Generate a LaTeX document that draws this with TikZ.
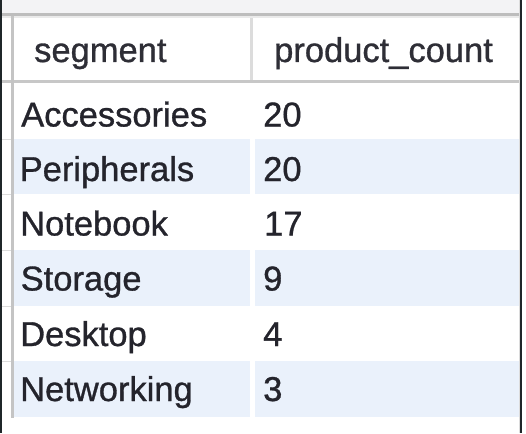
\documentclass[tikz,border=0pt]{standalone}
\usepackage{fontspec}
\setmainfont{Liberation Sans}
\newfontfamily\gridfont[FakeBold=0.9]{Liberation Sans}
\definecolor{stripe}{HTML}{EAF1FB}
\definecolor{topbar}{HTML}{F3F3F5}
\definecolor{rule}{HTML}{BDBDBD}
\definecolor{lightrule}{HTML}{DCDCDC}
\definecolor{frame}{HTML}{1F2629}
\definecolor{txt}{HTML}{24242C}
\definecolor{hdrtxt}{HTML}{2E2E36}
\begin{document}
\begin{tikzpicture}[x=1pt,y=-1pt,
  cell/.style={anchor=base west, inner sep=0pt, font=\gridfont\fontsize{34.5}{41}\selectfont, text=txt},
  hdr/.style={cell, text=hdrtxt},
  stripefill/.style={fill=stripe},
  stub/.style={draw=lightrule, line width=1pt}]
\useasboundingbox (0,0) rectangle (526,433);
\fill[white] (0,0) rectangle (526,433);
% top toolbar strip
\fill[topbar] (0,0) rectangle (519,14);
\fill[rule] (0,13.5) rectangle (519,16.5);
\fill[lightrule!60!white] (0,16.5) rectangle (519,18);
% striped rows
\fill[stripefill] (14,139) rectangle (250,194);
\fill[stripefill] (255,139) rectangle (519,194);
\fill[stripefill] (14,250) rectangle (250,306);
\fill[stripefill] (255,250) rectangle (519,306);
\fill[stripefill] (14,361) rectangle (250,417);
\fill[stripefill] (255,361) rectangle (519,417);
% header bottom rule
\fill[rule!85!white] (0,80) rectangle (519,83);
% header column separator
\fill[lightrule] (249.5,18) rectangle (252.5,80);
% left gutter rule
\fill[rule!90!white] (10.5,16.5) rectangle (13.5,418);
% gutter stubs at row borders
\foreach \yy in {139,194,250,306,361} \draw[stub] (2,\yy) -- (10.5,\yy);
% right edge
\fill[lightrule] (518.5,0) rectangle (520.2,433);
\fill[frame] (520.2,0) rectangle (522,433);
% left dark frame
\fill[frame] (0,0) rectangle (1.7,433);
% header texts
\node[hdr] (h1) at (34,62) {segment};
\node[hdr] (h2) at (274,62) {product\_count};
% data
\node[cell] (s1) at (21,126.5) {Accessories};
\node[cell] (c1) at (263,126.5) {20};
\node[cell] (s2) at (19.5,181) {Peripherals};
\node[cell] (c2) at (263,181) {20};
\node[cell] (s3) at (20,235.5) {Notebook};
\node[cell] (c3) at (264,235.5) {17};
\node[cell] (s4) at (20.5,290.5) {Storage};
\node[cell] (c4) at (263,290.5) {9};
\node[cell] (s5) at (20,346) {Desktop};
\node[cell] (c5) at (263,346) {4};
\node[cell] (s6) at (20,401) {Networking};
\node[cell] (c6) at (263,401) {3};
\end{tikzpicture}
\end{document}
